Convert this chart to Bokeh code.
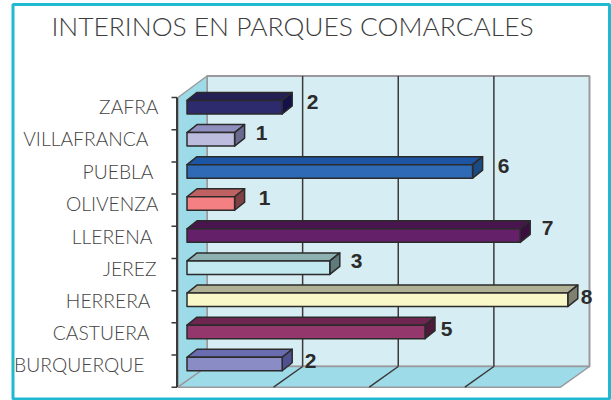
from bokeh.plotting import figure
from bokeh.models import ColumnDataSource
from bokeh.core.properties import value
from bokeh.embed import file_html
from bokeh.resources import INLINE

# ---- data (bottom to top) ----
categories = ["BURQUERQUE", "CASTUERA", "HERRERA", "JEREZ", "LLERENA", "OLIVENZA", "PUEBLA", "VILLAFRANCA", "ZAFRA"]
values = [2, 5, 8, 3, 7, 1, 6, 1, 2]
title_text = "INTERINOS EN PARQUES COMARCALES"
grid_values = [0, 2, 4, 6, 8]

# ---- styles ----
front_colors = ["#8a8cc6", "#94376c", "#f9f8c8", "#c2e8f0", "#642169", "#f58084", "#2e6ab5", "#bcbcdf", "#2e2a6e"]
top_colors = ["#6a6cb0", "#6e2650", "#b0b095", "#8db0b0", "#4a154f", "#bf6063", "#1c55a3", "#8f8fbf", "#241f55"]
side_colors = ["#4f5090", "#4d1a3a", "#808070", "#5f7a7a", "#3a0f40", "#7f4043", "#1c4a85", "#6a6a90", "#14104a"]

# ---- layout in pixels ----
W, H = 611, 400
PX_PER_UNIT = 47.6
PX_PER_CAT = 32.1
BAR_X0 = 186.5
BAR_Y0 = 363.5
BAR_H = 13.5
DX, DY = 10, 8
label_right = [144, 149, 150, 156, 152, 158, 153, 148, 158]
label_y = [364, 332, 300, 268, 236, 203, 171, 138, 106]
num_x = [310, 446, 586, 356, 547, 264, 503, 261, 312]
num_y = [360, 328, 296, 260, 227, 197, 165, 132, 101]

x0 = -BAR_X0 / PX_PER_UNIT
x1 = (W - BAR_X0) / PX_PER_UNIT
y1 = BAR_Y0 / PX_PER_CAT
y0 = (BAR_Y0 - H) / PX_PER_CAT


def X(px):
    return (px - BAR_X0) / PX_PER_UNIT


def Y(px):
    return (BAR_Y0 - px) / PX_PER_CAT


p = figure(width=W, height=H, x_range=(x0, x1), y_range=(y0, y1), toolbar_location=None,
           output_backend="svg", min_border=0, outline_line_color=None)
p.axis.visible = False
p.grid.visible = False
p.background_fill_color = "white"
p.border_fill_color = "white"

# chart box
WALL_L, WALL_R, WALL_T, WALL_B = 206.5, 589, 75.5, 366
FRONT_L, FRONT_R, FRONT_T, FRONT_B = 177.5, 560, 97, 386.7
WALL_EDGE = "#9a9a9e"
WALL_SIDE = "#9edbe8"
GRID_STEP = (WALL_R - WALL_L) / 8

# page frame
p.quad(left=[X(12.5)], right=[X(609)], top=[Y(4)], bottom=[Y(398.5)], fill_color="white",
       line_color="#1fb9d1", line_width=3)

p.quad(left=[X(WALL_L)], right=[X(WALL_R)], top=[Y(WALL_T)], bottom=[Y(WALL_B)],
       fill_color="#d6edf3", line_color=WALL_EDGE, line_width=2)
p.patch([X(FRONT_L), X(WALL_L), X(WALL_L), X(FRONT_L)], [Y(FRONT_T), Y(WALL_T), Y(WALL_B), Y(FRONT_B)],
        fill_color=WALL_SIDE, line_color=WALL_EDGE, line_width=1.5)
p.patch([X(FRONT_L), X(WALL_L), X(WALL_R), X(FRONT_R)], [Y(FRONT_B), Y(WALL_B), Y(WALL_B), Y(FRONT_B)],
        fill_color=WALL_SIDE, line_color=WALL_EDGE, line_width=1.5)

# grid lines on the wall and floor
for g in grid_values[1:-1]:
    bx = WALL_L + g * GRID_STEP
    fx = FRONT_L + g * GRID_STEP
    p.line([X(bx), X(bx)], [Y(WALL_T), Y(WALL_B)], line_color="#3a3a3a", line_width=1.5)
    p.line([X(bx), X(fx)], [Y(WALL_B), Y(FRONT_B)], line_color="#3a3a3a", line_width=1.5)

# category axis
p.line([X(FRONT_L - 1)] * 2, [Y(FRONT_T), Y(FRONT_B)], line_color="#3a3a3a", line_width=2)
for k in range(10):
    ty = FRONT_B - k * (FRONT_B - FRONT_T) / 9
    p.line([X(171), X(FRONT_L - 1)], [Y(ty), Y(ty)], line_color="#3a3a3a", line_width=1.5)

# bars
dx = DX / PX_PER_UNIT
dy = DY / PX_PER_CAT
bh = BAR_H / 2 / PX_PER_CAT
idx = list(range(len(values)))
outline = dict(line_color="#2b2b2b", line_width=1.5, line_join="round")
p.patches([[0, dx, v + dx, v] for v in values],
          [[i + bh, i + bh + dy, i + bh + dy, i + bh] for i in idx],
          fill_color=top_colors, **outline)
p.patches([[v, v + dx, v + dx, v] for v in values],
          [[i + bh, i + bh + dy, i - bh + dy, i - bh] for i in idx],
          fill_color=side_colors, **outline)
p.quad(left=[0] * len(values), right=values, top=[i + bh for i in idx], bottom=[i - bh for i in idx],
       fill_color=front_colors, **outline)

# texts
src = ColumnDataSource(dict(x=[X(v) for v in label_right], y=[Y(v) for v in label_y], t=categories))
p.text("x", "y", text="t", source=src, text_font=value("Lato Light"), text_font_size="19.3px", text_color="#444444",
       text_align="right", text_baseline="middle")
src2 = ColumnDataSource(dict(x=[X(v) for v in num_x], y=[Y(v) for v in num_y], t=[str(v) for v in values]))
p.text("x", "y", text="t", source=src2, text_font=value("Liberation Sans"), text_font_style="bold",
       text_font_size="21px", text_color="#2b2b2b", text_align="center", text_baseline="middle")
p.text([X(292)], [Y(25.5)], text=[title_text], text_font=value("Lato Light"), text_font_size="26.4px",
       text_color="#3d3d3d", text_align="center", text_baseline="middle")

open("out.html", "w").write(file_html(p, INLINE))
